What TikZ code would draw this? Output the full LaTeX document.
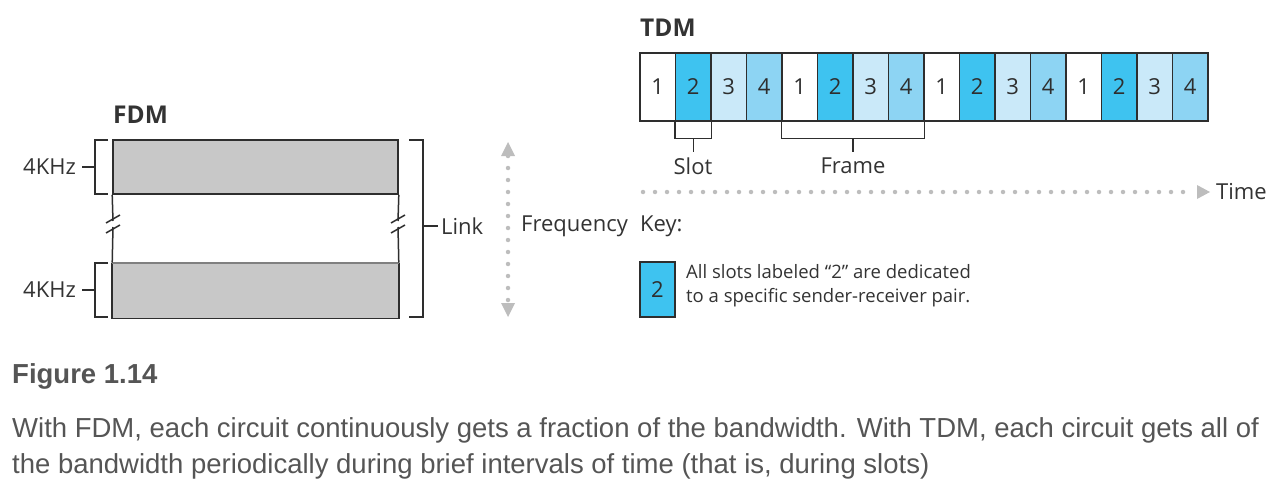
\documentclass[tikz,border=0pt]{standalone}
\usepackage{fontspec}
\setmainfont{Open Sans}
\newfontfamily\capfont{Liberation Sans}
\usetikzlibrary{arrows.meta,calc}
\definecolor{ink}{HTML}{2E2E2E}
\definecolor{txt}{HTML}{333333}
\definecolor{capc}{HTML}{555555}
\definecolor{cA}{HTML}{3EC3F0}
\definecolor{cB}{HTML}{CAE9F9}
\definecolor{cC}{HTML}{8DD4F3}
\definecolor{bandgray}{HTML}{C8C8C8}
\definecolor{dotgray}{HTML}{BDBDBD}
\begin{document}
\begin{tikzpicture}[x=1pt,y=-1pt,
  lbl/.style={font=\fontsize{22}{24}\selectfont, text=txt, inner sep=0pt},
  ttl/.style={font=\fontsize{24.5}{26}\selectfont\bfseries, text=txt, inner sep=0pt},
  slotbox/.style={draw=ink, line width=1.3pt, minimum width=35.5pt, minimum height=68pt, inner sep=0pt, font=\fontsize{22}{24}\selectfont, text=ink},
  band/.style={draw=ink, line width=1.6pt, fill=bandgray, minimum width=285pt, minimum height=54pt, inner sep=0pt},
  brk/.style={draw=ink, line width=1.5pt},
  dotline/.style={draw=dotgray, line width=4.5pt, dash pattern=on 0pt off 12pt, line cap=round},
  tip/.style={fill=dotgray, draw=none}]
\useasboundingbox (0,0) rectangle (1280,495);

% ---------- FDM ----------
\node[ttl, anchor=west] (fdm) at (113,115) {FDM};
\node[band] (b1) at (255.5,167) {};
\node[band, draw=none] (b2) at (255.5,290.5) {};
\draw[ink, line width=1.6pt] (b2.north west) |- (b2.south east) -- (b2.north east);
\draw[gray, line width=1.8pt] (b2.north west) -- (b2.north east);
% side lines with break marks
\draw[brk] (b1.south west) -- (113,221);
\draw[brk] (113,227) -- (b2.north west);
\draw[brk] (b1.south east) -- (398,221);
\draw[brk] (398,227) -- (b2.north east);
\foreach \xx in {113,398}{
  \draw[brk] (\xx-7,223) -- (\xx+7,215);
  \draw[brk] (\xx-7,233) -- (\xx+7,225);
}
% left brackets
\draw[brk] (108,140) -- (95,140) -- (95,194) -- (108,194);
\draw[brk] (108,263) -- (95,263) -- (95,317) -- (108,317);
\coordinate (d1) at (95,167);
\coordinate (d2) at (95,290);
\node[lbl, anchor=east] (k1) at (76,167) {4KHz};
\node[lbl, anchor=east] (k2) at (76,290) {4KHz};
\draw[brk] ($(k1.east)+(6,0)$) -- (d1);
\draw[brk] ($(k2.east)+(6,0)$) -- (d2);
% right bracket
\draw[brk] (409,140) -- (423,140) -- (423,317) -- (409,317);
\coordinate (dl) at (423,226);
\node[lbl, anchor=west] (link) at (441,226) {Link};
\draw[brk] (dl) -- ++(15,0);

% frequency axis
\coordinate (f0) at (508,156);
\coordinate (f1) at (508,302);
\draw[dotline] (f0) -- (f1);
\fill[tip] (508,142) -- (515,156) -- (501,156) -- cycle;
\fill[tip] (508,317) -- (515,303) -- (501,303) -- cycle;
\node[lbl, anchor=west] (freq) at (521,226) {Frequency};

% ---------- TDM ----------
\node[ttl, anchor=west] (tdm) at (640,28) {TDM};
\foreach \i/\c/\n in {1/white/1,2/cA/2,3/cB/3,4/cC/4,5/white/1,6/cA/2,7/cB/3,8/cC/4,9/white/1,10/cA/2,11/cB/3,12/cC/4,13/white/1,14/cA/2,15/cB/3,16/cC/4}{
  \node[slotbox, fill=\c] (s\i) at ({640+35.5*(\i-0.5)},87) {\n};
}
% slot bracket
\draw[brk, line width=1.3pt] (s2.south west) -- ++(0,17) -| (s2.south east);
\draw[brk, line width=1.3pt] ($(s2.south)+(0,17)$) -- ++(0,13);
\node[lbl, anchor=center] (slot) at (693,166) {Slot};
% frame bracket
\draw[brk, line width=1.3pt] (s5.south west) -- ++(0,17) -| (s8.south east);
\draw[brk, line width=1.3pt] ($(s5.south west)!0.5!(s8.south east)+(0,17)$) -- ++(0,13);
\node[lbl, anchor=center] (frame) at (853,166) {Frame};

% time axis
\coordinate (t0) at (643,192);
\coordinate (t1) at (1193,192);
\draw[dotline] (t0) -- (t1);
\fill[tip] (1210,192) -- (1197,185) -- (1197,199) -- cycle;
\node[lbl, anchor=west] (time) at (1216,192) {Time};

% key
\node[lbl, anchor=west] (key) at (640,226) {Key:};
\node[slotbox, fill=cA, minimum width=35pt, minimum height=55pt] (kb) at (657.5,289.5) {2};
\node[anchor=west, align=left, inner sep=0pt, text=txt, font=\fontsize{18.5}{24}\selectfont] (kt) at (686,286)
  {All slots labeled “2” are dedicated\\to a specific sender-receiver pair.};

% ---------- caption ----------
\node[anchor=west, inner sep=0pt, text=capc, font=\capfont\bfseries\fontsize{27.5}{30}\selectfont] (fig) at (12,376) {Figure 1.14};
\node[anchor=west, inner sep=0pt, text=capc, font=\capfont\fontsize{27.5}{30}\selectfont] (c1) at (12,430)
  {With FDM, each circuit continuously gets a fraction of the bandwidth. With TDM, each circuit gets all of};
\node[anchor=west, inner sep=0pt, text=capc, font=\capfont\fontsize{27.5}{30}\selectfont] (c2) at (12,466)
  {the bandwidth periodically during brief intervals of time (that is, during slots)};
\end{tikzpicture}
\end{document}
